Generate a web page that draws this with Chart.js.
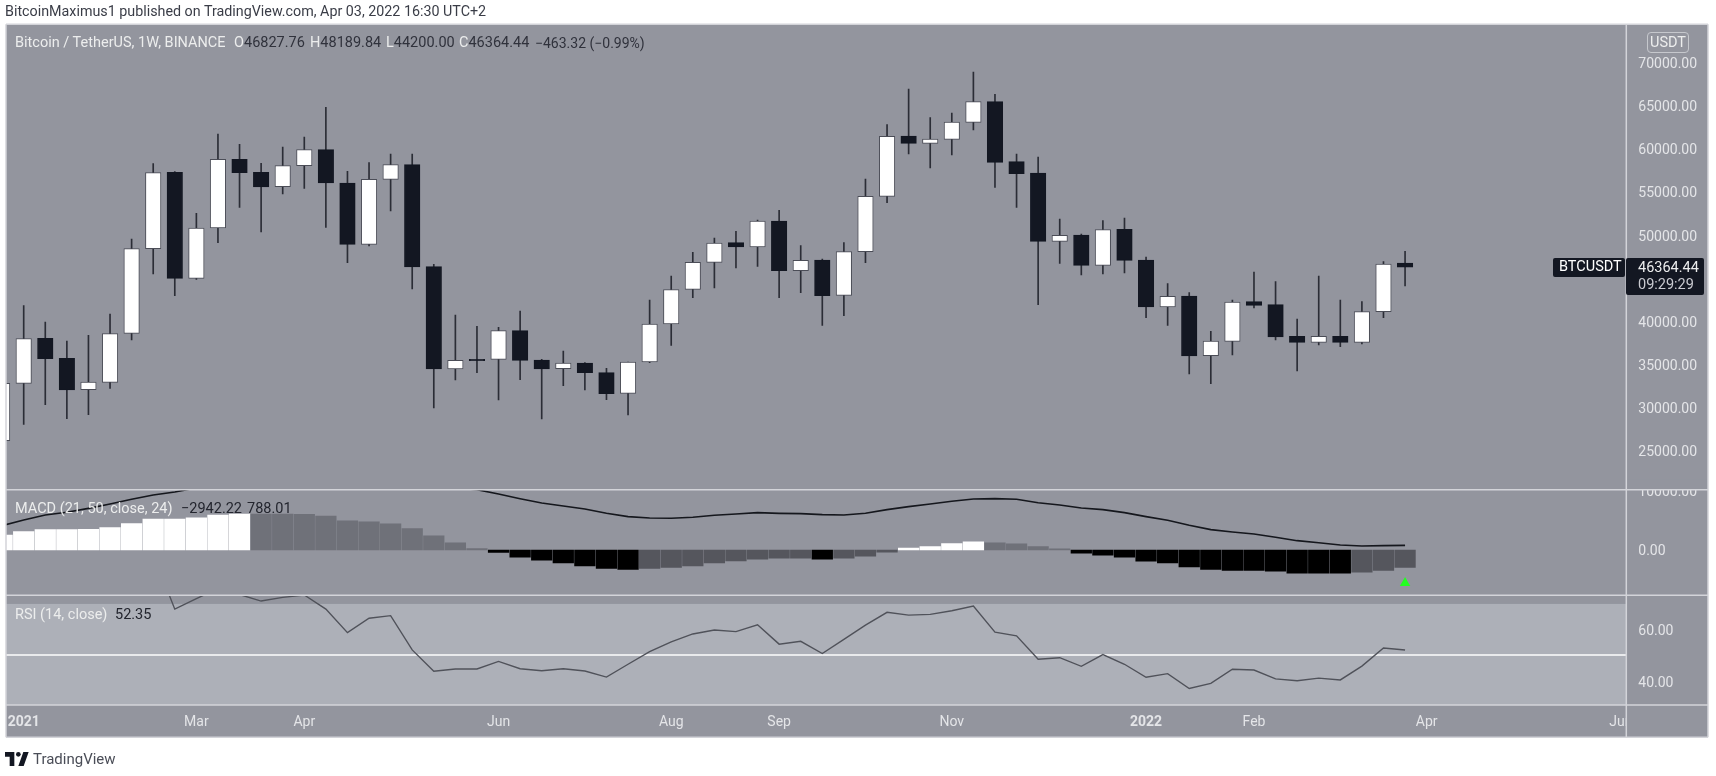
<!DOCTYPE html>
<html>
<head>
<meta charset="utf-8">
<title>BTCUSDT</title>
<script src="https://cdn.jsdelivr.net/npm/chart.js@4"></script>
<style>
    body { margin: 0; background: #fff; font-family: Roboto, sans-serif; }
    #wrap { position: relative; width: 1716px; height: 776px; overflow: hidden; }
    canvas { position: absolute; left: 0; top: 0; }
    .txt { position: absolute; white-space: pre; font-size: 14.5px; line-height: 16px; color: #eceded; }
    .dark { color: #30323c; }
    .tag { position: absolute; background: #131722; border-radius: 2px; }
</style>
</head>
<body>
<div id="wrap">
    <canvas id="chart" width="1716" height="776"></canvas>
    <div class="txt" style="left:5px;top:3px;color:#3a3d47;font-size:14.3px;">BitcoinMaximus1 published on TradingView.com, Apr 03, 2022 16:30 UTC+2</div>
    <div class="txt" style="left:15px;top:35px;">Bitcoin / TetherUS, 1W, BINANCE</div>
    <div class="txt" style="left:234px;top:35px;">O<span class="dark">46827.76</span></div>
    <div class="txt" style="left:310px;top:35px;">H<span class="dark">48189.84</span></div>
    <div class="txt" style="left:386px;top:35px;">L<span class="dark">44200.00</span></div>
    <div class="txt" style="left:459px;top:35px;">C<span class="dark">46364.44</span></div>
    <div class="txt dark" style="left:535px;top:35px;font-size:14px;">−463.32 (−0.99%)</div>
    <div class="txt" style="left:15px;top:501px;">MACD (21, 50, close, 24)</div>
    <div class="txt dark" style="left:181px;top:501px;color:#23252e;">−2942.22</div>
    <div class="txt dark" style="left:247px;top:501px;color:#23252e;">788.01</div>
    <div class="txt" style="left:15px;top:607px;">RSI (14, close)</div>
    <div class="txt dark" style="left:115px;top:607px;color:#23252e;">52.35</div>
    <div class="txt" style="left:1647px;top:32px;width:40px;height:19px;line-height:19px;text-align:center;border:1px solid #c6c8cd;border-radius:4px;">USDT</div>
    <div class="tag" style="left:1553px;top:258px;width:72px;height:19px;"></div>
    <div class="txt" style="left:1559px;top:259px;color:#fff;">BTCUSDT</div>
    <div class="tag" style="left:1626px;top:258px;width:78px;height:37px;"></div>
    <div class="txt" style="left:1638px;top:260px;">46364.44</div>
    <div class="txt" style="left:1638px;top:277px;color:#c9cad0;">09:29:29</div>
    <svg style="position:absolute;left:5px;top:752px;" width="24" height="14" viewBox="0 0 36 21">
        <path d="M14 0H0v7h7v14h7V0zM28 21h-8L27.5 0h8L28 21z" fill="#131722"/>
        <circle cx="20" cy="3.5" r="3.5" fill="#131722"/>
    </svg>
    <div class="txt" style="left:33px;top:751px;font-size:15px;color:#4a4d57;">TradingView</div>
</div>
<script>
const opens = [26277, 32915, 38124, 35809, 32182, 33031, 38704, 48505, 57342, 45071, 50898, 58848, 57342, 55683, 58114, 59966, 56108, 49007, 56532, 58230, 46421, 34575, 35694, 35694, 39012, 35616, 34612, 35269, 34150, 31757, 35385, 39784, 43797, 46924, 49200, 48698, 51708, 45958, 47193, 43103, 48158, 54564, 61549, 60700, 61163, 63131, 65524, 58577, 57265, 49354, 50087, 46576, 50743, 47193, 41752, 43025, 36118, 37777, 42370, 42022, 38356, 37662, 38356, 37662, 41212, 46827.76];
const highs = [34778, 41906, 40016, 37816, 38472, 40942, 49625, 58346, 57419, 52596, 61780, 60584, 58384, 60275, 61433, 64867, 57458, 58462, 59465, 59465, 46692, 40826, 39514, 39398, 41289, 35694, 36658, 35307, 34651, 35385, 42563, 45341, 48081, 49741, 50512, 51824, 52943, 48853, 47310, 49200, 56571, 62861, 66990, 63671, 64212, 68958, 66373, 59465, 59118, 51940, 50203, 51747, 52056, 47541, 44453, 43411, 38935, 42563, 45804, 44685, 40362, 45341, 42563, 42370, 47000, 48189.84];
const lows = [25700, 28169, 30445, 28825, 29287, 32337, 37932, 45573, 43065, 44956, 49200, 53291, 50435, 54834, 55490, 50975, 46885, 48814, 52866, 43836, 30060, 33301, 34150, 30985, 33340, 28786, 32645, 32143, 31024, 29249, 35307, 37315, 42833, 43952, 46267, 46460, 42833, 43411, 39629, 40749, 46885, 53831, 59465, 57844, 59349, 62243, 55606, 53291, 42022, 46807, 45457, 45573, 45689, 40518, 39629, 33995, 32876, 36195, 41636, 37932, 34343, 37353, 37160, 37469, 40518, 44200];
const closes = [32915, 38086, 35771, 32143, 33070, 38665, 48505, 57304, 45071, 50898, 58848, 57304, 55645, 58114, 59966, 56108, 49007, 56532, 58230, 46383, 34575, 35577, 35539, 39012, 35577, 34575, 35269, 34150, 31719, 35385, 39784, 43758, 46924, 49162, 48698, 51708, 45958, 47155, 43065, 48158, 54564, 61510, 60700, 61201, 63169, 65524, 58500, 57188, 49354, 50049, 46576, 50705, 47155, 41752, 42987, 36080, 37816, 42331, 41946, 38280, 37662, 38356, 37662, 41212, 46730, 46364.44];

const macdLine = [4125, 5085, 5930, 6385, 7060, 7800, 8590, 9320, 9830, 10510, 10960, 11300, 11530, 11700, 11750, 11750, 11700, 11580, 11400, 11190, 10850, 10510, 10230, 9490, 8700, 7970, 7460, 6950, 6215, 5650, 5425, 5370, 5540, 5880, 6100, 6330, 6215, 6160, 5990, 5930, 6215, 6840, 7345, 7800, 8250, 8645, 8700, 8590, 8020, 7630, 7120, 6840, 6330, 5650, 5030, 4180, 3450, 3050, 2710, 2150, 1580, 1240, 850, 680, 735, 788];
const macdHist = [2514, 3135, 3475, 3480, 3485, 3810, 4490, 5225, 5230, 5450, 5900, 6100, 6080, 6070, 6060, 5735, 4945, 4775, 4435, 3645, 2400, 1215, 255, -425, -1215, -1725, -2175, -2685, -3135, -3305, -3135, -2965, -2685, -2175, -1835, -1555, -1390, -1380, -1555, -1385, -1045, -365, 310, 595, 1100, 1385, 1215, 1045, 595, 200, -535, -875, -1215, -1895, -2175, -2855, -3305, -3475, -3480, -3590, -3930, -3935, -3940, -3760, -3475, -2942];
const rsiValues = [78, 80, 82, 78, 78, 80, 88, 89, 68, 72, 75.9, 73.6, 71.1, 72.5, 73.4, 68, 59, 64.5, 65.5, 52.4, 44.2, 45.1, 45.1, 48, 45.2, 44.4, 45.2, 44.3, 42, 46.9, 51.7, 55.5, 58.5, 60, 59.4, 62, 54.6, 55.7, 51, 56.4, 61.9, 66.8, 65.7, 66, 67.4, 69.2, 59.2, 57.8, 48.8, 49.4, 46.1, 50.6, 46.9, 41.9, 43.3, 37.6, 39.6, 45, 44.7, 41.3, 40.6, 41.6, 40.9, 46.2, 53.1, 52.35];

const crossIndex = [65];
const crossLevel = [-5590];

const tickIndexes = [1, 9, 14, 23, 31, 36, 44, 53, 58, 66, 75];
const tickLabels = ['2021', 'Mar', 'Apr', 'Jun', 'Aug', 'Sep', 'Nov', '2022', 'Feb', 'Apr', 'Jun'];
const priceTicks = [25000, 30000, 35000, 40000, 50000, 55000, 60000, 65000, 70000];
const macdTicks = [0, 10000];
const rsiTicks = [40, 60];

const bgColor = '#93959e';
const lineColor = '#d3d4d9';
const tickColor = '#e4e5e8';

function histColor(i) {
    let v = macdHist[i];
    let prev = i > 0 ? macdHist[i - 1] : 0;
    if (v >= 0) return v > prev ? '#ffffff' : '#6f7179';
    return v < prev ? '#000000' : '#55565d';
}

function fixedTicks(list) {
    return scale => { scale.ticks = list.map(v => ({ value: v })); };
}

const panels = {
    id: 'panels',
    beforeDraw(chart) {
        let c = chart.ctx;
        let a = chart.chartArea;
        let rsi = chart.scales.rsi;
        c.save();
        c.fillStyle = bgColor;
        c.fillRect(a.left, a.top, 1708 - a.left, chart.scales.x.bottom - a.top);
        c.fillStyle = '#adb0b8';
        c.fillRect(a.left, rsi.getPixelForValue(70), a.right - a.left, rsi.bottom - rsi.getPixelForValue(70));
        c.strokeStyle = '#e9eaec';
        c.lineWidth = 2;
        c.beginPath();
        c.moveTo(a.left, rsi.getPixelForValue(50.4));
        c.lineTo(a.right, rsi.getPixelForValue(50.4));
        c.stroke();
        c.restore();
    },
    afterDraw(chart) {
        let c = chart.ctx;
        let a = chart.chartArea;
        let s = chart.scales;
        let right = a.right + 81.7;
        c.save();
        // the pane edges cut the tick labels that overrun them
        c.fillStyle = bgColor;
        c.fillRect(a.right, s.x.top, 80, s.x.bottom - s.x.top);
        c.fillRect(a.right, s.y.bottom - 10, 80, 10);
        c.strokeStyle = lineColor;
        c.lineWidth = 1.5;
        c.beginPath();
        [s.y.top, s.y.bottom, s.macd.bottom, s.x.top, s.x.bottom].forEach(y => {
            c.moveTo(a.left, y);
            c.lineTo(right, y);
        });
        [a.left, a.right, right].forEach(x => {
            c.moveTo(x, a.top);
            c.lineTo(x, s.x.bottom);
        });
        c.stroke();
        c.restore();
    }
};

function paneAxis(ticksList, min, max, weight, order) {
    return {
        type: 'linear',
        position: 'right',
        stack: 'panes',
        stackWeight: weight,
        weight: order,
        min: min,
        max: max,
        grid: { display: false, drawTicks: false },
        border: { display: false },
        afterFit: scale => { scale.width = 81.7; },
        afterBuildTicks: fixedTicks(ticksList),
        ticks: {
            color: tickColor,
            // blank first line with a tight line height nudges the text 1px down
            font: { family: 'Roboto', size: 14, lineHeight: 0.18 },
            padding: 12,
            callback: v => ['', v.toFixed(2)]
        }
    };
}

function isYearTick(ctx) {
    return ctx.tick && tickLabels[tickIndexes.indexOf(ctx.tick.value)].startsWith('20');
}

const weeks = opens.map((v, i) => i);

new Chart(document.getElementById('chart'), {
    type: 'bar',
    plugins: [panels],
    data: {
        datasets: [
            {
                data: weeks.map(i => ({ x: i, y: [opens[i], closes[i]] })),
                yAxisID: 'y',
                order: 1,
                grouped: false,
                barThickness: 15.5,
                borderSkipped: false,
                borderWidth: 1,
                borderColor: weeks.map(i => closes[i] >= opens[i] ? '#4b4d57' : '#131722'),
                backgroundColor: weeks.map(i => closes[i] >= opens[i] ? '#ffffff' : '#131722')
            },
            {
                data: weeks.map(i => ({ x: i, y: [lows[i], highs[i]] })),
                yAxisID: 'y',
                order: 2,
                grouped: false,
                barThickness: 1,
                backgroundColor: '#2b2d36'
            },
            {
                data: weeks.map(i => ({ x: i, y: macdHist[i] })),
                yAxisID: 'macd',
                order: 2,
                grouped: false,
                barThickness: 20.6,
                backgroundColor: weeks.map(histColor)
            },
            {
                type: 'line',
                data: weeks.map(i => ({ x: i, y: macdLine[i] })),
                yAxisID: 'macd',
                order: 1,
                borderColor: '#15171d',
                borderWidth: 1.6,
                pointRadius: 0,
                tension: 0
            },
            {
                type: 'line',
                data: crossIndex.map((x, i) => ({ x: x, y: crossLevel[i] })),
                yAxisID: 'macd',
                order: 1,
                showLine: false,
                pointStyle: 'triangle',
                pointRadius: 6,
                pointBorderWidth: 0,
                pointBackgroundColor: '#22ff22'
            },
            {
                type: 'line',
                data: weeks.map(i => ({ x: i, y: rsiValues[i] })),
                yAxisID: 'rsi',
                order: 1,
                borderColor: '#50525a',
                borderWidth: 1.4,
                pointRadius: 0,
                tension: 0
            }
        ]
    },
    options: {
        responsive: false,
        animation: false,
        layout: { padding: { left: 5.5, right: 8, top: 24.3, bottom: 38.7 } },
        plugins: { legend: { display: false }, tooltip: { enabled: false } },
        scales: {
            x: {
                type: 'linear',
                offset: false,
                min: 0.18,
                max: 75.25,
                grid: { display: false, drawTicks: false },
                border: { display: false },
                afterFit: scale => {
                    scale.height = 32.3;
                    scale.paddingLeft = 0;
                    scale.paddingRight = 0;
                },
                afterBuildTicks: fixedTicks(tickIndexes),
                ticks: {
                    color: tickColor,
                    autoSkip: false,
                    maxRotation: 0,
                    padding: 9,
                    font: ctx => ({
                        family: 'Roboto',
                        size: 14,
                        weight: isYearTick(ctx) ? 'bold' : 'normal'
                    }),
                    callback: v => tickLabels[tickIndexes.indexOf(v)]
                }
            },
            y: paneAxis(priceTicks, 20600, 74480, 465.4, 1),
            macd: paneAxis(macdTicks, -7680, 10220, 105.6, 2),
            rsi: paneAxis(rsiTicks, 31.3, 73.3, 109.7, 3)
        }
    }
});
</script>
</body>
</html>
